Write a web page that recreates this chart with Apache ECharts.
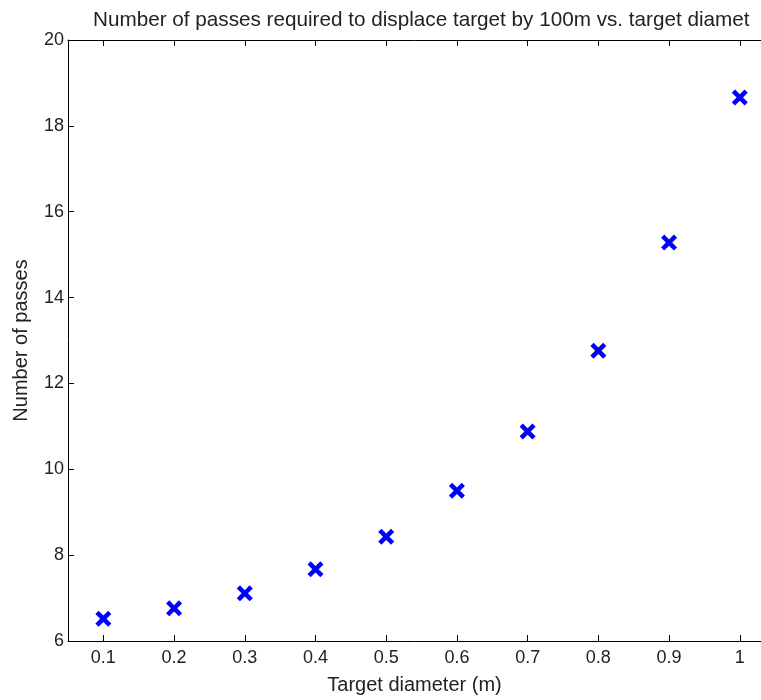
<!DOCTYPE html>
<html>
<head>
<meta charset="utf-8">
<script src="https://cdn.jsdelivr.net/npm/echarts@6/dist/echarts.min.js"></script>
<style>
  html, body { margin: 0; padding: 0; background: #fff; }
  #chart { width: 761px; height: 700px; }
</style>
</head>
<body>
<div id="chart"></div>
<script>
// 靶径 (m) 与所需次数
const diameters = [0.1, 0.2, 0.3, 0.4, 0.5, 0.6, 0.7, 0.8, 0.9, 1.0];
const passes = [6.52, 6.76, 7.11, 7.67, 8.43, 9.50, 10.88, 12.76, 15.28, 18.66];
const xTicks = [0.1, 0.2, 0.3, 0.4, 0.5, 0.6, 0.7, 0.8, 0.9, 1];

const font = 'Liberation Sans, Arial, sans-serif';
const crossPath = 'path://M0,2 L2,0 L5,3 L8,0 L10,2 L7,5 L10,8 L8,10 L5,7 L2,10 L0,8 L3,5 Z';

const chart = echarts.init(document.getElementById('chart'));

// 图外右边被裁掉，x 轴一直延伸到画布边缘
const xMin = 0.05;
const xMax = 1.03;

chart.setOption({
  animation: false,
  title: {
    text: 'Number of passes required to displace target by 100m vs. target diamet',
    left: 88,
    top: 5,
    textStyle: { fontFamily: font, fontSize: 20.7, fontWeight: 'normal', color: '#222' }
  },
  grid: { left: 68, right: 0, top: 40, bottom: 55 },
  xAxis: [
    {
      type: 'value',
      min: xMin,
      max: xMax,
      name: 'Target diameter (m)',
      nameLocation: 'middle',
      nameGap: 34,
      nameTextStyle: { fontFamily: font, fontSize: 20, color: '#222' },
      axisLine: { lineStyle: { color: '#000' } },
      axisTick: { show: true, inside: true, length: 6, customValues: xTicks, lineStyle: { color: '#000' } },
      axisLabel: {
        fontFamily: font, fontSize: 18, color: '#222', margin: 8,
        customValues: xTicks,
        formatter: v => String(+v.toFixed(1))
      },
      splitLine: { show: false }
    },
    {
      type: 'value',
      position: 'top',
      min: xMin,
      max: xMax,
      axisLine: { lineStyle: { color: '#000' } },
      axisTick: { show: true, inside: true, length: 6, customValues: xTicks, lineStyle: { color: '#000' } },
      axisLabel: { show: false },
      splitLine: { show: false }
    }
  ],
  yAxis: {
    type: 'value',
    min: 6,
    max: 20,
    interval: 2,
    name: 'Number of passes',
    nameLocation: 'middle',
    nameGap: 37,
    nameTextStyle: { fontFamily: font, fontSize: 20, color: '#222' },
    axisLine: { show: true, lineStyle: { color: '#000' } },
    axisTick: { show: true, inside: true, length: 6, lineStyle: { color: '#000' } },
    axisLabel: { fontFamily: font, fontSize: 18, color: '#222', margin: 4 },
    splitLine: { show: false }
  },
  series: [
    {
      type: 'scatter',
      data: diameters.map((d, i) => [d, passes[i]]),
      symbol: crossPath,
      symbolSize: 16,
      itemStyle: { color: '#0000ff', opacity: 1 }
    }
  ]
});
</script>
</body>
</html>
